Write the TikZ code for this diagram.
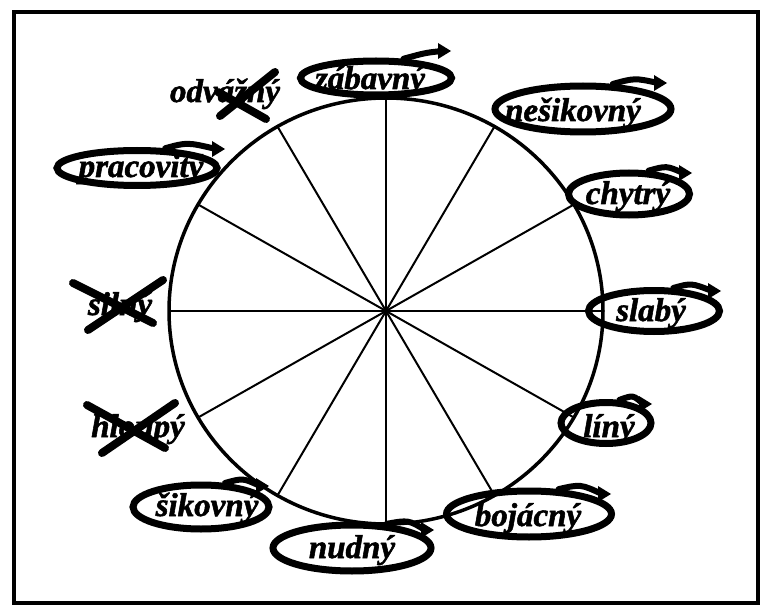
\documentclass[tikz,border=0pt]{standalone}
\usepackage{fontspec}
\setmainfont{Liberation Serif}
\newfontfamily\handfont{Liberation Serif}[BoldItalicFeatures={FakeBold=1.6}]
\usetikzlibrary{shapes.geometric,calc}
\newcommand{\tailtip}[1]{\fill ($(#1)+(-13,-8)$) -- (#1) -- ($(#1)+(-13,8)$) -- cycle;}
\begin{document}
\begin{tikzpicture}[x=1pt,y=-1pt,
  word/.style={font=\handfont\fontsize{33}{36}\selectfont\bfseries\itshape, inner sep=0pt, anchor=base},
  oval/.style={ellipse, draw, line width=7pt, inner sep=0pt},
  tailstroke/.style={draw, line width=6pt, line cap=round},
  cross/.style={line width=8pt, line cap=round},
  spoke/.style={line width=2pt},
  ]
\useasboundingbox (0,0) rectangle (761,607);
\draw[line width=4pt] (14,12) rectangle (758,603);
\coordinate (c) at (386,311);
\foreach \a in {0,30,...,330} {
  \coordinate (s\a) at ($(c)+(\a:217 and 213)$);
  \draw[spoke] (c) -- (s\a);
}
\draw[line width=3.5pt] (c) ellipse [x radius=217pt, y radius=213pt];

% labelled ellipses
\node[oval, minimum width=151pt, minimum height=34pt] (zabE) at (376,78) {};
\node[word] (zab) at (370,89) {zábavný};
\coordinate (zabT) at (451,51);
\path[tailstroke] (zabE.35) .. controls +(22,-6) .. ($(zabT)+(-9,0)$);
\tailtip{zabT}

\node[oval, minimum width=176pt, minimum height=46pt] (nesE) at (583,109) {};
\node[word] (nes) at (573,121) {nešikovný};
\coordinate (nesT) at (667,83);
\path[tailstroke] (nesE.40) .. controls +(22,-6) .. ($(nesT)+(-9,0)$);
\tailtip{nesT}

\node[oval, minimum width=121pt, minimum height=42pt] (chyE) at (629,194) {};
\node[word] (chy) at (628,204) {chytrý};
\coordinate (chyT) at (692,173);
\path[tailstroke] (chyE.50) .. controls +(18,-5) .. ($(chyT)+(-9,0)$);
\tailtip{chyT}

\node[oval, minimum width=131pt, minimum height=41pt] (slaE) at (654,311) {};
\node[word] (sla) at (651,321) {slabý};
\coordinate (slaT) at (721,291);
\path[tailstroke] (slaE.50) .. controls +(18,-5) .. ($(slaT)+(-9,0)$);
\tailtip{slaT}

\node[oval, minimum width=90pt, minimum height=41pt] (linE) at (606,423) {};
\node[word] (lin) at (609,437) {líný};
\coordinate (linT) at (652,404);
\path[tailstroke] (linE.60) .. controls +(14,-5) .. ($(linT)+(-9,0)$);
\tailtip{linT}

\node[oval, minimum width=165pt, minimum height=46pt] (bojE) at (529,514) {};
\node[word] (boj) at (528,526) {bojácný};
\coordinate (bojT) at (611,494);
\path[tailstroke] (bojE.40) .. controls +(22,-5) .. ($(bojT)+(-9,0)$);
\tailtip{bojT}

\node[oval, minimum width=158pt, minimum height=46pt] (nudE) at (352,548) {};
\node[word] (nud) at (352,558) {nudný};
\coordinate (nudT) at (434,530);
\path[tailstroke] (nudE.35) .. controls +(22,-4) .. ($(nudT)+(-9,0)$);
\tailtip{nudT}

\node[oval, minimum width=136pt, minimum height=44pt] (sikE) at (201,507) {};
\node[word] (sik) at (207,516) {šikovný};
\coordinate (sikT) at (269,486);
\path[tailstroke] (sikE.45) .. controls +(18,-5) .. ($(sikT)+(-9,0)$);
\tailtip{sikT}

\node[oval, minimum width=160pt, minimum height=35pt] (praE) at (137,168) {};
\node[word] (pra) at (141,177) {pracovitý};
\coordinate (praT) at (225,149);
\path[tailstroke] (praE.35) .. controls +(22,-6) .. ($(praT)+(-9,0)$);
\tailtip{praT}

% crossed-out words
\node[word] (odv) at (225,102) {odvážný};
\draw[cross] (275,72) -- (220,116);
\draw[cross] (218,92) -- (266,119);

\node[word] (sil) at (120,315) {silný};
\draw[cross] (73,283) -- (153,323);
\draw[cross] (163,280) -- (88,330);

\node[word] (hlo) at (138,437) {hloupý};
\draw[cross] (87,405) -- (165,448);
\draw[cross] (175,403) -- (102,453);
\end{tikzpicture}
\end{document}
